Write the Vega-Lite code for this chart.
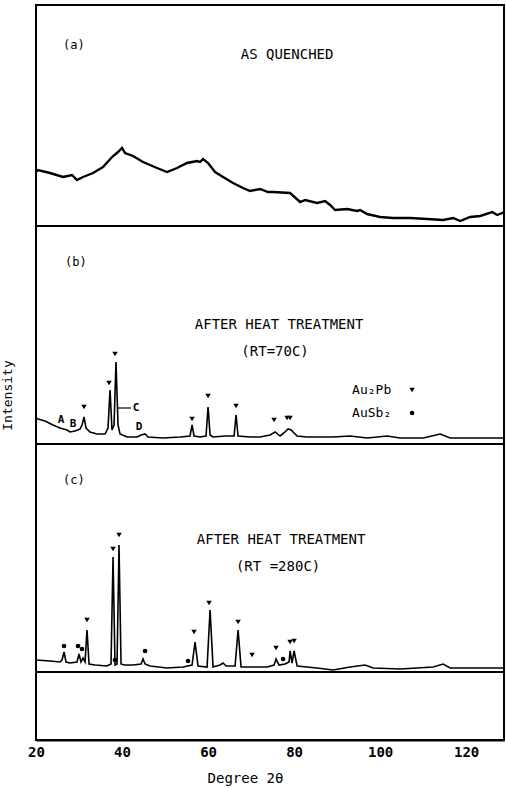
{
  "$schema": "https://vega.github.io/schema/vega-lite/v6.json",
  "width": 468,
  "height": 735,
  "autosize": "none",
  "padding": {"left": 36, "top": 5, "right": 2, "bottom": 49},
  "background": "white",
  "config": {
    "view": {"stroke": "black", "strokeWidth": 2},
    "axis": {"grid": false, "domainColor": "black", "domainWidth": 2, "tickColor": "black", "labelColor": "black", "titleColor": "black", "labelFont": "DejaVu Sans Mono", "titleFont": "DejaVu Sans Mono"},
    "text": {"font": "DejaVu Sans Mono", "color": "black"}
  },
  "datasets": {
    "traces": [
      {"panel": "a", "deg": 20.0, "inten": 568}, {"panel": "a", "deg": 20.47, "inten": 570}, {"panel": "a", "deg": 23.26, "inten": 567}, {"panel": "a", "deg": 26.28, "inten": 563}, {"panel": "a", "deg": 28.37, "inten": 565}, {"panel": "a", "deg": 29.53, "inten": 560}, {"panel": "a", "deg": 30.93, "inten": 563}, {"panel": "a", "deg": 33.26, "inten": 567}, {"panel": "a", "deg": 35.58, "inten": 573}, {"panel": "a", "deg": 37.67, "inten": 583}, {"panel": "a", "deg": 39.07, "inten": 588}, {"panel": "a", "deg": 40.0, "inten": 592}, {"panel": "a", "deg": 40.7, "inten": 587}, {"panel": "a", "deg": 42.56, "inten": 584}, {"panel": "a", "deg": 44.88, "inten": 578}, {"panel": "a", "deg": 48.14, "inten": 572}, {"panel": "a", "deg": 50.47, "inten": 568}, {"panel": "a", "deg": 52.79, "inten": 572}, {"panel": "a", "deg": 55.12, "inten": 577}, {"panel": "a", "deg": 57.44, "inten": 579}, {"panel": "a", "deg": 58.14, "inten": 578}, {"panel": "a", "deg": 58.84, "inten": 581}, {"panel": "a", "deg": 60.0, "inten": 577}, {"panel": "a", "deg": 61.63, "inten": 568}, {"panel": "a", "deg": 63.49, "inten": 563}, {"panel": "a", "deg": 65.81, "inten": 557}, {"panel": "a", "deg": 68.14, "inten": 552}, {"panel": "a", "deg": 69.77, "inten": 549}, {"panel": "a", "deg": 72.09, "inten": 551}, {"panel": "a", "deg": 73.95, "inten": 548}, {"panel": "a", "deg": 75.12, "inten": 548}, {"panel": "a", "deg": 79.07, "inten": 547}, {"panel": "a", "deg": 81.4, "inten": 538}, {"panel": "a", "deg": 82.56, "inten": 540}, {"panel": "a", "deg": 85.35, "inten": 537}, {"panel": "a", "deg": 87.21, "inten": 539}, {"panel": "a", "deg": 88.37, "inten": 535}, {"panel": "a", "deg": 89.53, "inten": 530}, {"panel": "a", "deg": 92.33, "inten": 531}, {"panel": "a", "deg": 94.65, "inten": 529}, {"panel": "a", "deg": 95.35, "inten": 530}, {"panel": "a", "deg": 96.98, "inten": 526}, {"panel": "a", "deg": 100.0, "inten": 523}, {"panel": "a", "deg": 103.02, "inten": 522}, {"panel": "a", "deg": 106.98, "inten": 522}, {"panel": "a", "deg": 110.93, "inten": 521}, {"panel": "a", "deg": 114.65, "inten": 520}, {"panel": "a", "deg": 116.98, "inten": 522}, {"panel": "a", "deg": 118.6, "inten": 519}, {"panel": "a", "deg": 120.93, "inten": 523}, {"panel": "a", "deg": 123.26, "inten": 524}, {"panel": "a", "deg": 126.05, "inten": 528}, {"panel": "a", "deg": 127.21, "inten": 525}, {"panel": "a", "deg": 128.37, "inten": 527}, {"panel": "a", "deg": 128.8, "inten": 528},

      {"panel": "b", "deg": 20.0, "inten": 322}, {"panel": "b", "deg": 20.47, "inten": 321}, {"panel": "b", "deg": 22.09, "inten": 319}, {"panel": "b", "deg": 23.95, "inten": 315}, {"panel": "b", "deg": 25.58, "inten": 312}, {"panel": "b", "deg": 27.21, "inten": 310}, {"panel": "b", "deg": 27.91, "inten": 308}, {"panel": "b", "deg": 29.07, "inten": 309}, {"panel": "b", "deg": 30.23, "inten": 311}, {"panel": "b", "deg": 30.7, "inten": 315}, {"panel": "b", "deg": 31.16, "inten": 323}, {"panel": "b", "deg": 31.63, "inten": 312}, {"panel": "b", "deg": 32.56, "inten": 308}, {"panel": "b", "deg": 34.19, "inten": 306}, {"panel": "b", "deg": 36.05, "inten": 306}, {"panel": "b", "deg": 36.74, "inten": 312}, {"panel": "b", "deg": 37.21, "inten": 350}, {"panel": "b", "deg": 37.67, "inten": 310}, {"panel": "b", "deg": 38.14, "inten": 315}, {"panel": "b", "deg": 38.6, "inten": 378}, {"panel": "b", "deg": 39.07, "inten": 315}, {"panel": "b", "deg": 39.53, "inten": 306}, {"panel": "b", "deg": 41.16, "inten": 303}, {"panel": "b", "deg": 43.49, "inten": 303}, {"panel": "b", "deg": 44.42, "inten": 305}, {"panel": "b", "deg": 45.35, "inten": 306}, {"panel": "b", "deg": 46.05, "inten": 303}, {"panel": "b", "deg": 49.53, "inten": 302}, {"panel": "b", "deg": 53.49, "inten": 303}, {"panel": "b", "deg": 55.81, "inten": 304}, {"panel": "b", "deg": 56.28, "inten": 315}, {"panel": "b", "deg": 56.74, "inten": 304}, {"panel": "b", "deg": 58.14, "inten": 303}, {"panel": "b", "deg": 59.53, "inten": 304}, {"panel": "b", "deg": 60.0, "inten": 333}, {"panel": "b", "deg": 60.47, "inten": 305}, {"panel": "b", "deg": 61.16, "inten": 303}, {"panel": "b", "deg": 63.95, "inten": 304}, {"panel": "b", "deg": 66.05, "inten": 304}, {"panel": "b", "deg": 66.51, "inten": 325}, {"panel": "b", "deg": 66.98, "inten": 304}, {"panel": "b", "deg": 69.77, "inten": 303}, {"panel": "b", "deg": 72.09, "inten": 303}, {"panel": "b", "deg": 74.42, "inten": 305}, {"panel": "b", "deg": 75.58, "inten": 308}, {"panel": "b", "deg": 76.74, "inten": 304}, {"panel": "b", "deg": 77.91, "inten": 308}, {"panel": "b", "deg": 78.6, "inten": 311}, {"panel": "b", "deg": 79.3, "inten": 310}, {"panel": "b", "deg": 80.7, "inten": 304}, {"panel": "b", "deg": 83.02, "inten": 303}, {"panel": "b", "deg": 89.07, "inten": 303}, {"panel": "b", "deg": 93.02, "inten": 304}, {"panel": "b", "deg": 96.98, "inten": 302}, {"panel": "b", "deg": 101.63, "inten": 304}, {"panel": "b", "deg": 104.65, "inten": 302}, {"panel": "b", "deg": 110.0, "inten": 302}, {"panel": "b", "deg": 113.95, "inten": 306}, {"panel": "b", "deg": 116.28, "inten": 302}, {"panel": "b", "deg": 121.63, "inten": 302}, {"panel": "b", "deg": 128.8, "inten": 302},

      {"panel": "c", "deg": 20.0, "inten": 80}, {"panel": "c", "deg": 23.26, "inten": 79}, {"panel": "c", "deg": 25.58, "inten": 78}, {"panel": "c", "deg": 26.05, "inten": 80}, {"panel": "c", "deg": 26.51, "inten": 88}, {"panel": "c", "deg": 26.98, "inten": 78}, {"panel": "c", "deg": 27.91, "inten": 77}, {"panel": "c", "deg": 29.53, "inten": 78}, {"panel": "c", "deg": 30.0, "inten": 86}, {"panel": "c", "deg": 30.47, "inten": 78}, {"panel": "c", "deg": 30.93, "inten": 82}, {"panel": "c", "deg": 31.4, "inten": 78}, {"panel": "c", "deg": 31.86, "inten": 110}, {"panel": "c", "deg": 32.33, "inten": 76}, {"panel": "c", "deg": 33.72, "inten": 75}, {"panel": "c", "deg": 36.51, "inten": 74}, {"panel": "c", "deg": 37.44, "inten": 76}, {"panel": "c", "deg": 37.91, "inten": 183}, {"panel": "c", "deg": 38.37, "inten": 75}, {"panel": "c", "deg": 38.84, "inten": 76}, {"panel": "c", "deg": 39.3, "inten": 195}, {"panel": "c", "deg": 39.77, "inten": 76}, {"panel": "c", "deg": 40.47, "inten": 75}, {"panel": "c", "deg": 42.56, "inten": 75}, {"panel": "c", "deg": 44.42, "inten": 76}, {"panel": "c", "deg": 44.88, "inten": 81}, {"panel": "c", "deg": 45.35, "inten": 76}, {"panel": "c", "deg": 46.51, "inten": 74}, {"panel": "c", "deg": 50.47, "inten": 72}, {"panel": "c", "deg": 54.19, "inten": 73}, {"panel": "c", "deg": 56.28, "inten": 75}, {"panel": "c", "deg": 56.98, "inten": 98}, {"panel": "c", "deg": 57.67, "inten": 74}, {"panel": "c", "deg": 59.77, "inten": 73}, {"panel": "c", "deg": 60.47, "inten": 130}, {"panel": "c", "deg": 61.16, "inten": 73}, {"panel": "c", "deg": 62.79, "inten": 75}, {"panel": "c", "deg": 63.49, "inten": 77}, {"panel": "c", "deg": 64.19, "inten": 74}, {"panel": "c", "deg": 66.28, "inten": 74}, {"panel": "c", "deg": 66.98, "inten": 110}, {"panel": "c", "deg": 67.67, "inten": 73}, {"panel": "c", "deg": 70.47, "inten": 73}, {"panel": "c", "deg": 73.72, "inten": 73}, {"panel": "c", "deg": 75.35, "inten": 75}, {"panel": "c", "deg": 75.81, "inten": 81}, {"panel": "c", "deg": 76.51, "inten": 75}, {"panel": "c", "deg": 77.91, "inten": 76}, {"panel": "c", "deg": 78.84, "inten": 78}, {"panel": "c", "deg": 79.07, "inten": 89}, {"panel": "c", "deg": 79.53, "inten": 77}, {"panel": "c", "deg": 80.0, "inten": 89}, {"panel": "c", "deg": 80.7, "inten": 74}, {"panel": "c", "deg": 85.35, "inten": 72}, {"panel": "c", "deg": 89.07, "inten": 70}, {"panel": "c", "deg": 93.02, "inten": 73}, {"panel": "c", "deg": 96.51, "inten": 75}, {"panel": "c", "deg": 98.37, "inten": 72}, {"panel": "c", "deg": 104.65, "inten": 71}, {"panel": "c", "deg": 112.33, "inten": 73}, {"panel": "c", "deg": 114.65, "inten": 76}, {"panel": "c", "deg": 116.28, "inten": 72}, {"panel": "c", "deg": 123.95, "inten": 72}, {"panel": "c", "deg": 128.8, "inten": 72}
    ],
    "separators": [{"level": 514}, {"level": 296}, {"level": 68}],
    "ticks": [{"deg": 40}, {"deg": 60}, {"deg": 80}, {"deg": 100}, {"deg": 120}],
    "au2pb": [
      {"deg": 31.16, "inten": 333}, {"deg": 36.98, "inten": 357}, {"deg": 38.37, "inten": 386}, {"deg": 56.28, "inten": 321}, {"deg": 60.0, "inten": 344}, {"deg": 66.51, "inten": 334}, {"deg": 75.35, "inten": 320}, {"deg": 78.37, "inten": 322}, {"deg": 79.07, "inten": 322}, {"deg": 107.44, "inten": 350},
      {"deg": 31.86, "inten": 120}, {"deg": 37.91, "inten": 191}, {"deg": 39.3, "inten": 205}, {"deg": 56.74, "inten": 108}, {"deg": 60.23, "inten": 137}, {"deg": 66.98, "inten": 118}, {"deg": 70.23, "inten": 85}, {"deg": 75.81, "inten": 92}, {"deg": 79.07, "inten": 98}, {"deg": 80.0, "inten": 99}
    ],
    "ausb2": [
      {"deg": 107.44, "inten": 327},
      {"deg": 26.51, "inten": 94}, {"deg": 29.77, "inten": 94}, {"deg": 30.7, "inten": 91}, {"deg": 38.37, "inten": 80}, {"deg": 45.35, "inten": 89}, {"deg": 55.35, "inten": 79}, {"deg": 77.44, "inten": 81}
    ],
    "panelLabels": [
      {"deg": 26.28, "inten": 695, "label": "(a)"},
      {"deg": 26.74, "inten": 478, "label": "(b)"},
      {"deg": 26.28, "inten": 260, "label": "(c)"}
    ],
    "titles": [
      {"deg": 78.37, "inten": 685, "label": "AS QUENCHED"},
      {"deg": 76.51, "inten": 415, "label": "AFTER HEAT TREATMENT"},
      {"deg": 75.58, "inten": 388, "label": "(RT=70C)"},
      {"deg": 76.98, "inten": 200, "label": "AFTER HEAT TREATMENT"},
      {"deg": 76.28, "inten": 173, "label": "(RT =280C)"}
    ],
    "legendText": [
      {"deg": 93.49, "inten": 350, "label": "Au₂Pb"},
      {"deg": 93.49, "inten": 327, "label": "AuSb₂"}
    ],
    "peakLetters": [
      {"deg": 25.81, "inten": 320, "label": "A"},
      {"deg": 28.6, "inten": 316, "label": "B"},
      {"deg": 43.26, "inten": 332, "label": "C"},
      {"deg": 43.95, "inten": 313, "label": "D"}
    ],
    "leader": [{"deg": 38.84, "deg2": 42.09, "inten": 332}]
  },
  "encoding": {
    "x": {"field": "deg", "type": "quantitative", "scale": {"domain": [20, 128.8], "nice": false, "zero": false},
      "axis": {"title": "Degree 2θ", "values": [20, 40, 60, 80, 100, 120], "ticks": false, "labelPadding": 5, "labelFontSize": 14, "labelFontWeight": "bold", "labelFlush": false, "titleFontSize": 14, "titleFontWeight": "normal", "titleX": 209, "titleY": 38, "titleBaseline": "middle"}},
    "y": {"field": "inten", "type": "quantitative", "scale": {"domain": [0, 735], "nice": false, "zero": false},
      "axis": {"title": "Intensity", "labels": false, "ticks": false, "domain": false, "titleFontSize": 13, "titleFontWeight": "normal", "titleX": -29, "titleY": 390, "titleAngle": -90, "titleBaseline": "middle", "titleAlign": "center"}}
  },
  "layer": [
    {"data": {"name": "traces"}, "transform": [{"filter": "datum.panel === 'a'"}], "mark": {"type": "line", "color": "black", "strokeWidth": 2.4, "clip": true}, "encoding": {"detail": {"field": "panel"}}},
    {"data": {"name": "traces"}, "transform": [{"filter": "datum.panel !== 'a'"}], "mark": {"type": "line", "color": "black", "strokeWidth": 1.6, "clip": true}, "encoding": {"detail": {"field": "panel"}}},
    {"data": {"name": "separators"}, "mark": {"type": "rule", "color": "black", "strokeWidth": 2}, "encoding": {"x": null, "y": {"field": "level", "type": "quantitative"}}},
    {"data": {"name": "ticks"}, "mark": {"type": "rule", "color": "black", "strokeWidth": 2}, "encoding": {"y": {"datum": 0}, "y2": {"datum": 10}}},
    {"data": {"name": "leader"}, "mark": {"type": "rule", "color": "black", "strokeWidth": 1.2}, "encoding": {"x2": {"field": "deg2"}}},
    {"data": {"name": "au2pb"}, "mark": {"type": "point", "shape": "triangle-down", "filled": true, "color": "black", "size": 30, "opacity": 1}},
    {"data": {"name": "ausb2"}, "mark": {"type": "point", "shape": "circle", "filled": true, "color": "black", "size": 22, "opacity": 1}},
    {"data": {"name": "panelLabels"}, "mark": {"type": "text", "align": "left", "baseline": "middle", "fontSize": 12}, "encoding": {"text": {"field": "label"}}},
    {"data": {"name": "titles"}, "mark": {"type": "text", "align": "center", "baseline": "middle", "fontSize": 14}, "encoding": {"text": {"field": "label"}}},
    {"data": {"name": "legendText"}, "mark": {"type": "text", "align": "left", "baseline": "middle", "fontSize": 13}, "encoding": {"text": {"field": "label"}}},
    {"data": {"name": "peakLetters"}, "mark": {"type": "text", "align": "center", "baseline": "middle", "fontSize": 11, "fontWeight": "bold"}, "encoding": {"text": {"field": "label"}}}
  ]
}
